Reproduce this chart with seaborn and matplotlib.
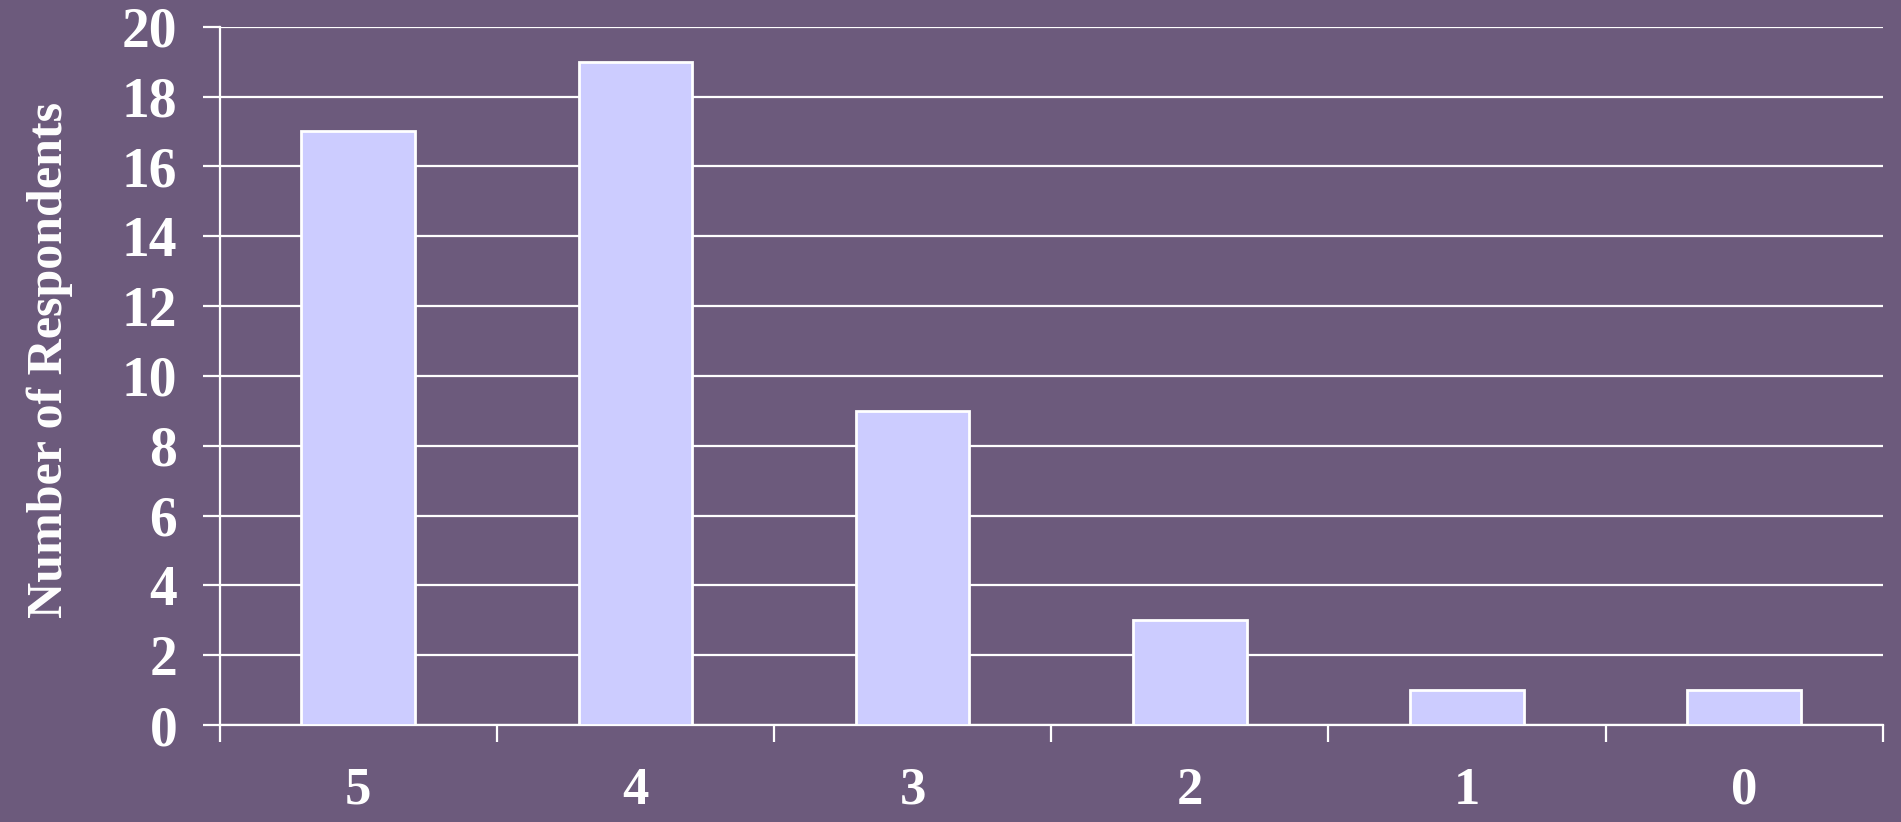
import matplotlib
matplotlib.use("Agg")
import matplotlib.pyplot as plt
import pandas as pd
import seaborn as sns

# data
ratings = ["5", "4", "3", "2", "1", "0"]
respondents = [17, 19, 9, 3, 1, 1]
y_ticks = [0, 2, 4, 6, 8, 10, 12, 14, 16, 18, 20]

bg = "#6C5A7C"
sns.set_style("white")
plt.rcParams["font.family"] = ["Liberation Serif", "DejaVu Serif"]
plt.rcParams["font.weight"] = "bold"

df = pd.DataFrame({"rating": ratings, "n": respondents})

fig = plt.figure(figsize=(19.01, 8.22), dpi=100, facecolor=bg)
ax = fig.add_axes([0.1155, 0.118, 0.875, 0.8495])
ax.set_facecolor(bg)

sns.barplot(data=df, x="rating", y="n", order=ratings, color="#CCCCFF",
            saturation=1, width=0.41, edgecolor="white", linewidth=2, ax=ax, zorder=3)

ax.set_xlim(-0.5, 5.5)
ax.set_ylim(0, 20)
ax.set_yticks(y_ticks)
ax.yaxis.grid(True, color="white", linewidth=1.6, zorder=0)
ax.set_axisbelow(True)

# category labels at centres, tick marks at the boundaries
ax.set_xticks(range(len(ratings)))
ax.set_xticklabels(ratings)
ax.set_xticks([i - 0.5 for i in range(len(ratings) + 1)], minor=True)
ax.tick_params(which="both", bottom=True, left=True)
ax.tick_params(axis="x", which="major", length=0, pad=30, labelsize=38, labelcolor="white")
ax.tick_params(axis="x", which="minor", length=12, width=1.6, color="white", direction="out")
ax.tick_params(axis="y", length=12.5, width=1.6, color="white", direction="out",
               pad=18, labelsize=40, labelcolor="white")
for lab in ax.get_xticklabels() + ax.get_yticklabels():
    lab.set_fontweight("bold")

for side in ["top", "right"]:
    ax.spines[side].set_visible(False)
for side in ["left", "bottom"]:
    ax.spines[side].set_color("white")
    ax.spines[side].set_linewidth(1.6)

ax.set_xlabel("")
ax.set_ylabel("Number of Respondents", fontsize=36, fontweight="bold", color="white")
ax.yaxis.set_label_coords(-0.088, 0.523)

fig.savefig("out.png", dpi=100, facecolor=bg)
